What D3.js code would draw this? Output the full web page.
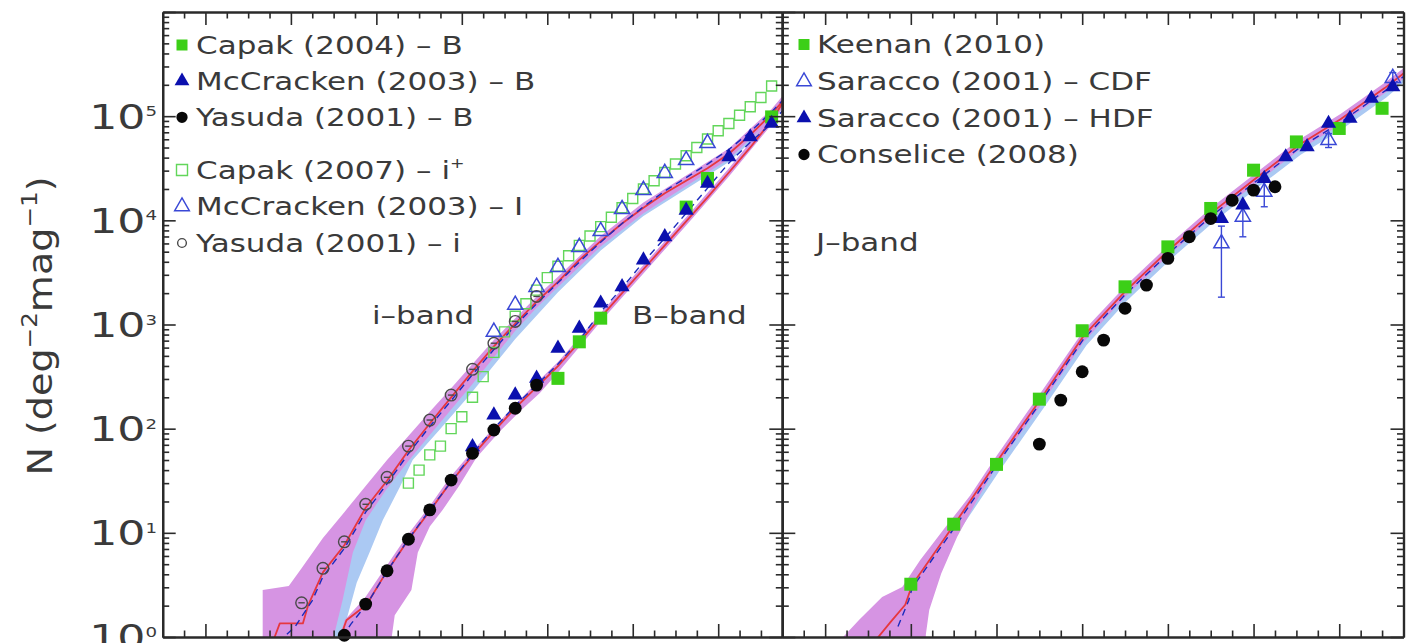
<!DOCTYPE html>
<html>
<head>
<meta charset="utf-8">
<script src="https://cdn.jsdelivr.net/npm/d3@7"></script>
<style>
  html, body { margin: 0; padding: 0; background: #fff; }
  svg { display: block; }
  text { font-family: "DejaVu Sans", sans-serif; fill: #3a3a3a; }
</style>
</head>
<body>
<svg id="chart" width="1413" height="643"></svg>
<script>
// ---------------- data ----------------
// magnitude range shared by both panels, tick positions
const magDomain = [13, 27.5];
const magMajorTicks = [14, 16, 18, 20, 22, 24, 26];
const countExponents = [0, 1, 2, 3, 4, 5];

// B-band number counts [mag, N (deg^-2 mag^-1)]
const capak2004B = [[22.25, 304], [22.75, 682], [23.25, 1150], [25.25, 13400], [25.75, 25200], [27.25, 98400]];
const mccracken2003B = [[20.25, 67], [20.75, 135], [21.25, 210], [21.75, 304], [22.25, 590], [22.75, 918],
  [23.25, 1600], [23.75, 2300], [24.25, 4150], [24.75, 6950], [25.25, 12500], [25.75, 22600],
  [26.25, 40600], [26.75, 63200], [27.25, 85100]];
const yasuda2001B = [[17.25, 1.04], [17.75, 2.07], [18.25, 4.33], [18.75, 8.67], [19.25, 16.6],
  [19.75, 32.1], [20.25, 58], [20.75, 97], [21.25, 157], [21.75, 262]];

// i-band number counts
const capak2007i = [[18.75, 30], [19.0, 40], [19.25, 56], [19.5, 68], [19.75, 100], [20.0, 130],
  [20.25, 200], [20.5, 316], [20.75, 540], [21.0, 850], [21.25, 1200], [21.5, 1580], [21.75, 2140],
  [22.0, 2820], [22.25, 3630], [22.5, 4570], [22.75, 5750], [23.0, 7080], [23.25, 8710], [23.5, 10700],
  [23.75, 13200], [24.0, 16200], [24.25, 20000], [24.5, 24000], [24.75, 28800], [25.0, 34700],
  [25.25, 41700], [25.5, 50100], [25.75, 60300], [26.0, 72400], [26.25, 85100], [26.5, 102000],
  [26.75, 123000], [27.0, 151000], [27.25, 195000]];
const mccracken2003I = [[20.75, 851], [21.25, 1540], [21.75, 2290], [22.25, 3560], [22.75, 5530],
  [23.25, 7870], [23.75, 12800], [24.25, 19500], [24.75, 28400], [25.25, 37800], [25.75, 55100]];
const yasuda2001i = [[16.25, 2.13], [16.75, 4.56], [17.25, 8.2], [17.75, 18.8], [18.25, 34.1],
  [18.75, 68], [19.25, 121], [19.75, 210], [20.25, 371], [20.75, 661], [21.25, 1070], [21.75, 1860]];

// J-band number counts
const keenan2010J = [[16, 3.21], [17, 12.1], [18, 45.4], [19, 192], [20, 871], [21, 2300], [22, 5560],
  [23, 13000], [24, 30300], [25, 56600], [26, 76200], [27, 119000]];
const saracco2001CDF = [[23.25, 6000], [23.75, 10800], [24.25, 18800], [25.75, 58900], [27.25, 232000]];
const saracco2001CDFLow = [1830, 6950, 13500, 50000, 205000];
const saracco2001CDFHigh = [8800, 14000, 26200, 68000, 262000];
const saracco2001HDF = [[23.25, 10400], [23.75, 14000], [24.25, 25200], [24.75, 40600], [25.25, 50700],
  [25.75, 85100], [26.25, 95100], [26.75, 148000], [27.25, 191000]];
const conselice2008J = [[19, 71.1], [19.5, 188], [20, 352], [20.5, 708], [21, 1430], [21.5, 2390],
  [22, 4310], [22.5, 6950], [23, 10400], [23.5, 15600], [24, 19500], [24.5, 21000]];

// model predictions: median curves
const modelI = [[15.55, 0.8], [15.62, 1], [15.74, 1.35], [16.28, 1.35], [16.4, 2.0], [16.75, 4.17],
  [17.25, 7.59], [17.75, 17.4], [18.25, 31.6], [18.75, 61.7], [19.25, 112], [19.75, 200], [20.25, 355],
  [20.75, 617], [21.25, 1020], [21.75, 1660], [22.25, 2570], [22.75, 4170], [23.25, 6310], [23.75, 9330],
  [24.25, 13200], [24.75, 18200], [25.25, 24000], [25.75, 31600], [26.25, 43600], [26.75, 66100],
  [27.25, 105000], [27.5, 138000]];
const modelIAlt = [[15.7, 0.89], [16.1, 1.26], [16.5, 2.24], [16.75, 3.8], [17.25, 7.08], [17.75, 15.8],
  [18.25, 29.5], [18.75, 57.5], [19.25, 105], [19.75, 186], [20.25, 331], [20.75, 575], [21.25, 977],
  [21.75, 1580], [22.25, 2510], [22.75, 3980], [23.25, 6170], [23.75, 9330], [24.25, 13500],
  [24.75, 19100], [25.25, 25700], [25.75, 34700], [26.25, 47900], [26.75, 70800], [27.25, 110000],
  [27.5, 141000]];
const modelB = [[17.12, 0.9], [17.3, 1.45], [17.77, 2.04], [18.23, 4.17], [18.74, 8.51], [19.25, 16.2],
  [19.71, 29.5], [20.25, 55], [20.74, 93.3], [21.23, 155], [21.75, 251], [22.25, 398], [22.75, 676],
  [23.25, 1170], [23.75, 2000], [24.25, 3390], [24.75, 5750], [25.25, 9770], [25.75, 16600],
  [26.25, 28800], [26.75, 50100], [27.25, 91200], [27.5, 132000]];
const modelBAlt = [[17.2, 1.0], [17.4, 1.32], [17.8, 2.14], [18.25, 4.27], [18.75, 8.71], [19.25, 16.6],
  [19.75, 30.9], [20.25, 57.5], [20.75, 100], [21.25, 166], [21.75, 263], [22.25, 417], [22.75, 708],
  [23.25, 1320], [23.75, 2240], [24.25, 3980], [24.75, 6760], [25.25, 11700], [25.75, 20400],
  [26.25, 35500], [26.75, 56200], [27.25, 85100], [27.5, 112000]];
const modelJ = [[15.15, 0.9], [15.52, 1.38], [15.87, 2.04], [16.03, 3.16], [17.03, 12.3], [18.02, 49],
  [19.04, 195], [20.03, 776], [21.01, 2090], [22.01, 5130], [23.04, 12000], [24.04, 25100],
  [25.05, 52500], [26.03, 93300], [27.06, 186000], [27.5, 257000]];
const modelJAlt = [[15.7, 1.26], [15.95, 2.24], [16.03, 2.95], [17.03, 11.4], [18.02, 45.7], [19.04, 182],
  [20.03, 724], [21.01, 1950], [22.01, 4790], [23.04, 11200], [24.04, 23400], [25.05, 49000],
  [26.03, 87100], [27.06, 174000], [27.5, 240000]];

// model spread: bright edge and faint edge of each band
const bandIUpper = [[15.34, 0.79], [15.34, 2.82], [15.95, 3.09], [16.25, 4.57], [16.75, 8.91], [17.25, 15.8],
  [17.75, 28.2], [18.25, 50.1], [18.75, 85.1], [19.25, 145], [19.75, 245], [20.25, 417], [20.75, 708],
  [21.25, 1150], [21.75, 1860], [22.25, 2880], [23.25, 7080], [24.25, 14800], [25.25, 26900],
  [26.25, 49000], [27.25, 117000], [27.5, 155000]];
const bandILower = [[17.0, 0.79], [17.0, 1], [17.21, 2.26], [17.45, 6.46], [17.75, 13.2], [18.22, 25.7],
  [18.73, 47.9], [19.25, 87.1], [19.74, 151], [20.23, 263], [20.74, 479], [21.25, 871], [21.75, 1450],
  [22.25, 2290], [23.25, 5620], [24.25, 11700], [25.25, 21400], [26.25, 38900], [27.25, 93300],
  [27.5, 123000]];
const bandIAltUpper = [[16.68, 0.79], [16.68, 1], [17.07, 3.31], [17.38, 6.46], [17.66, 13.2], [18.08, 27.5],
  [18.55, 50.1], [19.25, 107], [20.25, 316], [21.25, 933], [22.25, 2340], [23.25, 5890], [24.25, 12300],
  [25.25, 22400], [26.25, 40700], [27.25, 97700], [27.5, 129000]];
const bandIAltLower = [[17.19, 0.79], [17.19, 1], [17.54, 3.31], [17.84, 6.46], [18.15, 13.2], [18.55, 27.5],
  [18.85, 50.1], [19.48, 97.7], [20.18, 209], [21.25, 724], [22.25, 2040], [23.25, 5130], [24.25, 11000],
  [25.25, 20000], [26.25, 36300], [27.25, 87100], [27.5, 117000]];
const bandBUpper = [[17.14, 0.79], [17.14, 1], [17.26, 1.46], [17.73, 2.37], [18.22, 4.7], [18.73, 9.53],
  [19.25, 18.1], [19.71, 33.6], [20.23, 59.6], [20.74, 101], [21.23, 168], [21.74, 274], [22.25, 437],
  [23.25, 1290], [24.25, 3720], [25.25, 10700], [26.25, 31600], [27.25, 100000], [27.5, 145000]];
const bandBLower = [[18.36, 0.79], [18.36, 1], [18.43, 1.62], [18.82, 2.82], [18.97, 6.46], [19.25, 11.5],
  [19.55, 16.6], [19.95, 28.8], [20.34, 52.5], [20.88, 93.3], [21.35, 145], [21.82, 219], [22.25, 347],
  [23.25, 1070], [24.25, 3090], [25.25, 8910], [26.25, 26300], [27.25, 83200], [27.5, 120000]];
const bandJUpper = [[14.42, 0.79], [14.42, 1], [14.79, 1.46], [15.33, 2.42], [15.8, 3.02], [16.22, 5.5],
  [16.76, 10.7], [17.39, 22.9], [18.02, 56.2], [19.04, 224], [20.03, 871], [21.01, 2340], [22.01, 5750],
  [23.04, 13500], [24.04, 28200], [25.05, 58900], [26.03, 105000], [27.06, 209000], [27.5, 288000]];
const bandJLower = [[16.35, 0.79], [16.35, 1.05], [16.43, 1.82], [16.71, 4.07], [17.08, 9.12], [17.54, 20.4],
  [17.99, 42.7], [19.04, 170], [20.03, 676], [21.01, 1860], [22.01, 4570], [23.04, 10700], [24.04, 22400],
  [25.05, 46800], [26.03, 83200], [27.06, 166000], [27.5, 229000]];
const bandJAltUpper = [[16.3, 4.17], [17.03, 12.3], [18.02, 49], [19.04, 195], [20.03, 776], [21.01, 2090],
  [22.01, 5130], [23.04, 12000], [24.04, 25100], [25.05, 52500], [26.03, 93300], [27.06, 186000],
  [27.5, 257000]];
const bandJAltLower = [[16.45, 3.55], [17.1, 10], [18.08, 39.8], [19.1, 158], [20.1, 631], [21.05, 1700],
  [22.05, 4170], [23.08, 9770], [24.08, 20400], [25.1, 42700], [26.08, 75900], [27.1, 151000],
  [27.5, 209000]];

// legend and panel texts
const legendLeftLabels = ["Capak (2004) – B", "McCracken (2003) – B", "Yasuda (2001) – B",
  "Capak (2007) – i", "McCracken (2003) – I", "Yasuda (2001) – i"];
const legendRightLabels = ["Keenan (2010)", "Saracco (2001) – CDF", "Saracco (2001) – HDF", "Conselice (2008)"];

// ---------------- layout ----------------
const plotTop = 12, plotBottom = 637;
const leftX0 = 162.7, midX = 782.3, rightX1 = 1403.5;

const C = {
  green: "#3ccf17", greenOpen: "#62d65a", blue: "#0b10ae", blueOpen: "#3a48d6",
  black: "#080808", grey: "#4a4a4a", red: "#e6373f", blueLine: "#1b2bbd",
  magenta: "#d694e3", lightBlue: "#abc9f3", axis: "#2a2a2a"
};

const svg = d3.select("#chart");
const xL = d3.scaleLinear().domain(magDomain).range([leftX0, midX]);
const xR = d3.scaleLinear().domain(magDomain).range([midX, rightX1]);
const y = d3.scaleLog().domain([1, 1e6]).range([plotBottom, plotTop]);

const defs = svg.append("defs");
defs.append("clipPath").attr("id", "clipL").append("rect")
  .attr("x", leftX0).attr("y", plotTop).attr("width", midX - leftX0).attr("height", plotBottom - plotTop);
defs.append("clipPath").attr("id", "clipR").append("rect")
  .attr("x", midX).attr("y", plotTop).attr("width", rightX1 - midX).attr("height", plotBottom - plotTop);

const panelL = svg.append("g").attr("clip-path", "url(#clipL)");
const panelR = svg.append("g").attr("clip-path", "url(#clipR)");

function band(g, x, upper, lower, fill) {
  const line = d3.line().x(d => x(d[0])).y(d => y(d[1]));
  g.append("path").attr("d", line(upper.concat(lower.slice().reverse())) + "Z")
    .attr("fill", fill).attr("stroke", "none");
}
function curve(g, x, data, color, dash, width) {
  const line = d3.line().x(d => x(d[0])).y(d => y(d[1]));
  g.append("path").attr("d", line(data)).attr("fill", "none")
    .attr("stroke", color).attr("stroke-width", width)
    .attr("stroke-dasharray", dash || null).attr("stroke-linejoin", "round");
}

const sym = {
  square: d3.symbol(d3.symbolSquare, 169)(),
  squareOpen: d3.symbol(d3.symbolSquare, 100)(),
  triangle: d3.symbol(d3.symbolTriangle, 100)(),
  circle: d3.symbol(d3.symbolCircle, 130)(),
  circleOpen: d3.symbol(d3.symbolCircle, 105)()
};

function markers(g, x, data, kind) {
  const sel = g.append("g").selectAll("g").data(data).join("g")
    .attr("transform", d => `translate(${x(d[0])},${y(d[1])})`);
  drawSymbol(sel, kind);
}
function drawSymbol(sel, kind) {
  if (kind === "greenFilled") sel.append("path").attr("d", sym.square).attr("fill", C.green);
  if (kind === "greenOpen") sel.append("path").attr("d", sym.squareOpen).attr("fill", "none")
    .attr("stroke", C.greenOpen).attr("stroke-width", 1.4);
  if (kind === "blueFilled") sel.append("path").attr("d", sym.triangle).attr("fill", C.blue);
  if (kind === "blueOpen") sel.append("path").attr("d", sym.triangle).attr("fill", "none")
    .attr("stroke", C.blueOpen).attr("stroke-width", 1.5);
  if (kind === "blackFilled") sel.append("path").attr("d", sym.circle).attr("fill", C.black);
  if (kind === "circleOpen") {
    sel.append("path").attr("d", sym.circleOpen).attr("fill", "none").attr("stroke", C.grey).attr("stroke-width", 1.4);
    sel.append("line").attr("x1", -3.2).attr("x2", 3.2).attr("stroke", C.grey).attr("stroke-width", 1.4);
  }
}

// ---- left panel: i-band and B-band ----
band(panelL, xL, bandIAltUpper, bandIAltLower, C.lightBlue);
band(panelL, xL, bandIUpper, bandILower, C.magenta);
band(panelL, xL, bandBUpper, bandBLower, C.magenta);
curve(panelL, xL, modelI, C.red, null, 1.8);
curve(panelL, xL, modelB, C.red, null, 1.8);
curve(panelL, xL, modelIAlt, C.blueLine, "7,5", 1.4);
curve(panelL, xL, modelBAlt, C.blueLine, "7,5", 1.4);

markers(svg, xL, capak2007i, "greenOpen");
markers(svg, xL, mccracken2003I, "blueOpen");
markers(svg, xL, yasuda2001i, "circleOpen");
markers(svg, xL, capak2004B, "greenFilled");
markers(svg, xL, mccracken2003B, "blueFilled");
markers(svg, xL, yasuda2001B, "blackFilled");

// ---- right panel: J-band ----
band(panelR, xR, bandJAltUpper, bandJAltLower, C.lightBlue);
band(panelR, xR, bandJUpper, bandJLower, C.magenta);
curve(panelR, xR, modelJ, C.red, null, 1.8);
curve(panelR, xR, modelJAlt, C.blueLine, "7,5", 1.4);

markers(svg, xR, keenan2010J, "greenFilled");
// CDF error bars
svg.append("g").selectAll("g").data(saracco2001CDF).join("g").each(function (d, i) {
  const g = d3.select(this), xp = xR(d[0]);
  g.append("line").attr("x1", xp).attr("x2", xp)
    .attr("y1", y(saracco2001CDFLow[i])).attr("y2", y(saracco2001CDFHigh[i]))
    .attr("stroke", C.blueOpen).attr("stroke-width", 1.4);
  [saracco2001CDFLow[i], saracco2001CDFHigh[i]].forEach(v => g.append("line")
    .attr("x1", xp - 3.5).attr("x2", xp + 3.5).attr("y1", y(v)).attr("y2", y(v))
    .attr("stroke", C.blueOpen).attr("stroke-width", 1.4));
});
markers(svg, xR, saracco2001CDF, "blueOpen");
markers(svg, xR, saracco2001HDF, "blueFilled");
markers(svg, xR, conselice2008J, "blackFilled");

// ---------------- axes ----------------
const axes = svg.append("g");
const magMinorTicks = d3.range(13.5, 27.5, 0.5).filter(v => !magMajorTicks.includes(v));
const countMajor = countExponents.map(e => 10 ** e).concat([1e6]);
const countMinor = [];
countExponents.forEach(e => d3.range(2, 10).forEach(m => countMinor.push(m * 10 ** e)));

function addAxis(axisFn, scale, values, size, transform) {
  axes.append("g").attr("transform", transform)
    .call(axisFn(scale).tickValues(values).tickSizeInner(-size).tickSizeOuter(0).tickFormat(""));
}
[xL, xR].forEach(x => {
  addAxis(d3.axisBottom, x, magMajorTicks, 13, `translate(0,${plotBottom})`);
  addAxis(d3.axisBottom, x, magMinorTicks, 6.5, `translate(0,${plotBottom})`);
  addAxis(d3.axisTop, x, magMajorTicks, 13, `translate(0,${plotTop})`);
  addAxis(d3.axisTop, x, magMinorTicks, 6.5, `translate(0,${plotTop})`);
});
addAxis(d3.axisLeft, y, countMajor, 13, `translate(${leftX0},0)`);
addAxis(d3.axisLeft, y, countMinor, 6.5, `translate(${leftX0},0)`);
addAxis(d3.axisRight, y, countMajor, 13, `translate(${midX},0)`);
addAxis(d3.axisRight, y, countMinor, 6.5, `translate(${midX},0)`);
addAxis(d3.axisLeft, y, countMajor, 13, `translate(${midX},0)`);
addAxis(d3.axisLeft, y, countMinor, 6.5, `translate(${midX},0)`);
addAxis(d3.axisRight, y, countMajor, 13, `translate(${rightX1},0)`);
addAxis(d3.axisRight, y, countMinor, 6.5, `translate(${rightX1},0)`);
axes.selectAll(".domain").attr("stroke", C.axis).attr("stroke-width", 2.2);
axes.selectAll(".tick line").attr("stroke", C.axis).attr("stroke-width", 1.6);

// y tick labels: 10^n
countExponents.forEach(e => {
  const t = svg.append("text").attr("text-anchor", "end")
    .attr("transform", `translate(157,${y(10 ** e)}) scale(1.3,1)`).attr("y", 12.4);
  t.append("tspan").attr("font-size", 34).text("10");
  t.append("tspan").attr("font-size", 14).attr("dy", -12.4).text(e);
});

// y axis title
const yt = svg.append("text").attr("text-anchor", "middle")
  .attr("transform", "translate(52,326) rotate(-90) scale(1.12,1)").attr("font-size", 34);
yt.append("tspan").text("N (deg");
yt.append("tspan").attr("font-size", 22).attr("dy", -15).text("−2");
yt.append("tspan").attr("dy", 15).text("mag");
yt.append("tspan").attr("font-size", 22).attr("dy", -15).text("−1");
yt.append("tspan").attr("dy", 15).text(")");

// ---------------- legends ----------------
const legendKindsLeft = ["greenFilled", "blueFilled", "blackFilled", "greenOpen", "blueOpen", "circleSmall"];
const legendBaselinesLeft = [53.5, 89.5, 125.8, 178.5, 215, 251.5];
legendLeftLabels.forEach((label, i) => {
  const base = legendBaselinesLeft[i];
  legendMarker(182, base - 8.5, legendKindsLeft[i]);
  const t = svg.append("text").attr("transform", `translate(196,${base}) scale(1.24,1)`).attr("font-size", 25);
  t.append("tspan").text(label);
  if (i === 3) t.append("tspan").attr("font-size", 14).attr("dy", -11).text("+");
});
const legendKindsRight = ["greenFilled", "blueOpen", "blueFilled", "blackFilled"];
const legendBaselinesRight = [53, 90, 126.5, 163];
legendRightLabels.forEach((label, i) => {
  const base = legendBaselinesRight[i];
  legendMarker(804, base - 8.5, legendKindsRight[i]);
  svg.append("text").attr("transform", `translate(817,${base}) scale(1.24,1)`).attr("font-size", 25).text(label);
});

function legendMarker(cx, cy, kind) {
  const g = svg.append("g").attr("transform", `translate(${cx},${cy})`);
  if (kind === "greenFilled") g.append("path").attr("d", d3.symbol(d3.symbolSquare, 121)()).attr("fill", C.green);
  if (kind === "greenOpen") g.append("path").attr("d", d3.symbol(d3.symbolSquare, 121)()).attr("fill", "none")
    .attr("stroke", C.greenOpen).attr("stroke-width", 1.4);
  if (kind === "blueFilled") g.append("path").attr("d", d3.symbol(d3.symbolTriangle, 95)()).attr("fill", C.blue);
  if (kind === "blueOpen") g.append("path").attr("d", d3.symbol(d3.symbolTriangle, 95)()).attr("fill", "none")
    .attr("stroke", C.blueOpen).attr("stroke-width", 1.4);
  if (kind === "blackFilled") g.append("path").attr("d", d3.symbol(d3.symbolCircle, 100)()).attr("fill", C.black);
  if (kind === "circleSmall") g.append("path").attr("d", d3.symbol(d3.symbolCircle, 60)()).attr("fill", "none")
    .attr("stroke", C.grey).attr("stroke-width", 1.4);
}

// band names
[["i–band", 372, 324], ["B–band", 632, 324], ["J–band", 816, 251]].forEach(([s, x0, y0]) => {
  svg.append("text").attr("transform", `translate(${x0},${y0}) scale(1.24,1)`).attr("font-size", 25).text(s);
});
</script>
</body>
</html>
